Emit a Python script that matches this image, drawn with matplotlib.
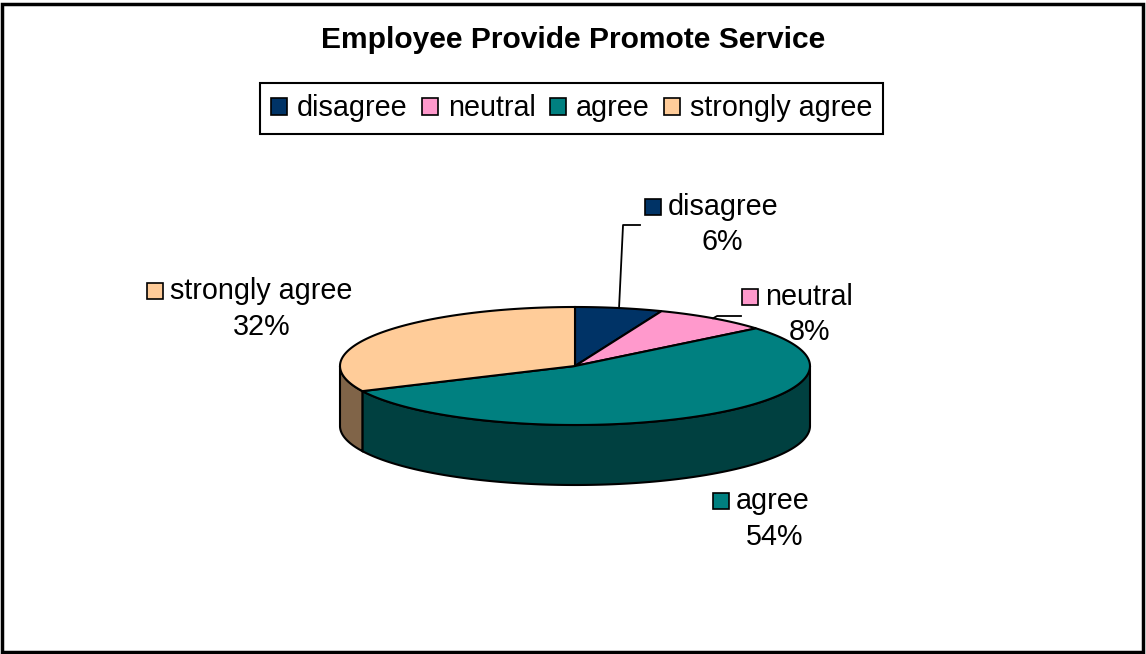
import numpy as np
import matplotlib.pyplot as plt
from matplotlib.patches import Polygon, Rectangle, Patch

plt.rcParams['font.family'] = ['Liberation Sans', 'DejaVu Sans']

categories = ['disagree', 'neutral', 'agree', 'strongly agree']
percents = [6, 8, 54, 32]
top_colors = ['#003366', '#FF99CC', '#008080', '#FFCC99']
side_colors = ['#001A33', '#804C66', '#004040', '#806448']

# label block placement: (marker left x, first line y, percent center x, percent y)
label_pos = [
    (645, 207, 722, 242),
    (742, 297, 810, 332),
    (713, 501, 775, 537),
    (147, 291, 262, 327),
]

# pie geometry in pixels (ellipse centre, radii, wall depth)
cx, cy = 575, 366
rx, ry = 235, 59
depth = 60
fs = 20.7

fig = plt.figure(figsize=(11.46, 6.54), dpi=100)
ax = fig.add_axes([0, 0, 1, 1])
ax.set_xlim(0, 1146)
ax.set_ylim(654, 0)
ax.axis('off')


def rim(t0, t1, n=200):
    # angles in degrees, clockwise from 12 o'clock
    t = np.radians(np.linspace(t0, t1, n))
    return cx + rx * np.sin(t), cy - ry * np.cos(t)


bounds = np.concatenate([[0], np.cumsum(percents) / np.sum(percents) * 360])

# front walls
for i in range(len(percents)):
    lo = max(bounds[i], 90)
    hi = min(bounds[i + 1], 270)
    if hi <= lo:
        continue
    x, y = rim(lo, hi)
    pts = np.column_stack([np.concatenate([x, x[::-1]]),
                           np.concatenate([y, y[::-1] + depth])])
    ax.add_patch(Polygon(pts, closed=True, facecolor=side_colors[i],
                         edgecolor='black', linewidth=1.5, zorder=2))

# top faces
for i in range(len(percents)):
    x, y = rim(bounds[i], bounds[i + 1])
    pts = np.column_stack([np.concatenate([[cx], x]), np.concatenate([[cy], y])])
    ax.add_patch(Polygon(pts, closed=True, facecolor=top_colors[i],
                         edgecolor='black', linewidth=1.5, zorder=3))

# data labels with keys
for i, (mx, my, px, py) in enumerate(label_pos):
    ax.add_patch(Rectangle((mx, my - 8), 16, 16, facecolor=top_colors[i],
                           edgecolor='black', linewidth=1.2, zorder=4))
    ax.text(mx + 23, my, categories[i], fontsize=fs, ha='left', va='center')
    ax.text(px, py, f'{percents[i]}%', fontsize=fs, ha='center', va='center')

# leader lines for the two small slices
leaders = [(0, 225, 640), (1, 316, 741)]
for i, ky, ex in leaders:
    mid = (bounds[i] + bounds[i + 1]) / 2
    x0, y0 = rim(mid, mid, 1)
    ax.plot([x0[0], x0[0] + 4, ex], [y0[0], ky, ky], color='black',
            linewidth=1.3, zorder=4)

ax.text(573, 40, 'Employee Provide Promote Service', fontsize=21.6,
        fontweight='bold', ha='center', va='center')

handles = [Patch(facecolor=c, edgecolor='black', linewidth=1.2) for c in top_colors]
leg = fig.legend(handles, categories, loc='center',
                 bbox_to_anchor=(571.5 / 1146, 1 - 108.5 / 654), ncol=4,
                 fontsize=fs, frameon=True, fancybox=False, framealpha=1,
                 edgecolor='black', handlelength=0.56, handleheight=0.56,
                 handletextpad=0.35, columnspacing=0.49, borderpad=0.39,
                 borderaxespad=0)
leg.get_frame().set_linewidth(1.5)

ax.add_patch(Rectangle((1.5, 3.5), 1141, 648, fill=False, edgecolor='black',
                       linewidth=2.5, zorder=5))

fig.savefig('out.png', dpi=100)
